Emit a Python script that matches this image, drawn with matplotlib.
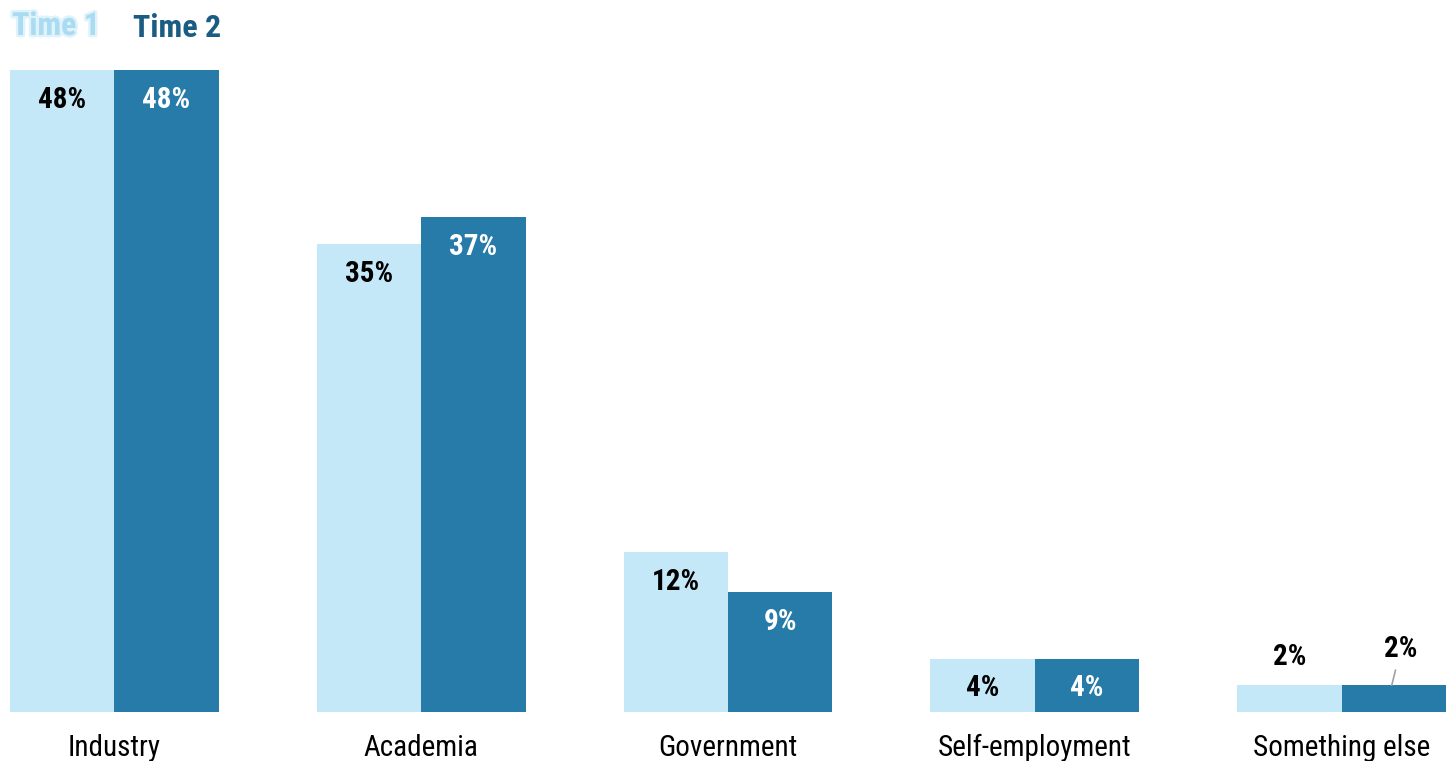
import matplotlib
matplotlib.use("Agg")
import matplotlib.pyplot as plt
import matplotlib.patheffects as pe
import numpy as np

plt.rcParams['font.family'] = ['Roboto Condensed', 'Liberation Sans Narrow', 'Roboto', 'DejaVu Sans']

categories = ['Industry', 'Academia', 'Government', 'Self-employment', 'Something else']
time1 = [48, 35, 12, 4, 2]
time2 = [48, 37, 9, 4, 2]

LIGHT = '#c5e8f8'
DARK = '#277ba8'
TITLE_DARK = '#1b5c82'

fig = plt.figure(figsize=(14.54, 7.61), dpi=100)
ax = fig.add_axes([10 / 1454, 49 / 761, 1436 / 1454, 695.5 / 761])

gap = 2.94
x = np.arange(len(categories)) * gap
ax.bar(x, time1, width=1, align='edge', color=LIGHT)
ax.bar(x + 1, time2, width=1, align='edge', color=DARK)
ax.set_xlim(0, x[-1] + 2)
ax.set_ylim(0, 52)
ax.axis('off')

fs = 21
for xi, v1, v2 in zip(x, time1, time2):
    if v1 >= 4:
        ax.annotate(f'{v1}%', (xi + 0.5, v1), xytext=(0, -30), textcoords='offset pixels',
                    ha='center', va='center', fontsize=fs, fontweight='bold', color='black')
    else:
        ax.annotate(f'{v1}%', (xi + 0.5, v1), xytext=(0, 28), textcoords='offset pixels',
                    ha='center', va='center', fontsize=fs, fontweight='bold', color='black')
    if v2 >= 4:
        ax.annotate(f'{v2}%', (xi + 1.5, v2), xytext=(0, -30), textcoords='offset pixels',
                    ha='center', va='center', fontsize=fs, fontweight='bold', color='white')
    else:
        # small bar: label sits above with a short leader line
        ax.annotate(f'{v2}%', (xi + 1.48, v2), xytext=(9, 36), textcoords='offset pixels',
                    ha='center', va='center', fontsize=fs, fontweight='bold', color='black',
                    arrowprops=dict(arrowstyle='-', color='#a0a0a0', lw=1.2,
                                    shrinkA=3, shrinkB=0))

for xi, cat in zip(x, categories):
    ax.annotate(cat, (xi + 1, 0), xytext=(0, -36), textcoords='offset pixels',
                ha='center', va='center', fontsize=21, color='black')

# legend labels at the top left; the first one is drawn soft
fig.text(12 / 1454, 1 - 26 / 761, 'Time 1', fontsize=23, fontweight='bold',
         color='#a9dbf2', ha='left', va='center',
         path_effects=[pe.withStroke(linewidth=3.5, foreground='#d4eef9', alpha=0.7)])
fig.text(133 / 1454, 1 - 28 / 761, 'Time 2', fontsize=23, fontweight='bold',
         color=TITLE_DARK, ha='left', va='center')

fig.savefig('out.png', dpi=100)
